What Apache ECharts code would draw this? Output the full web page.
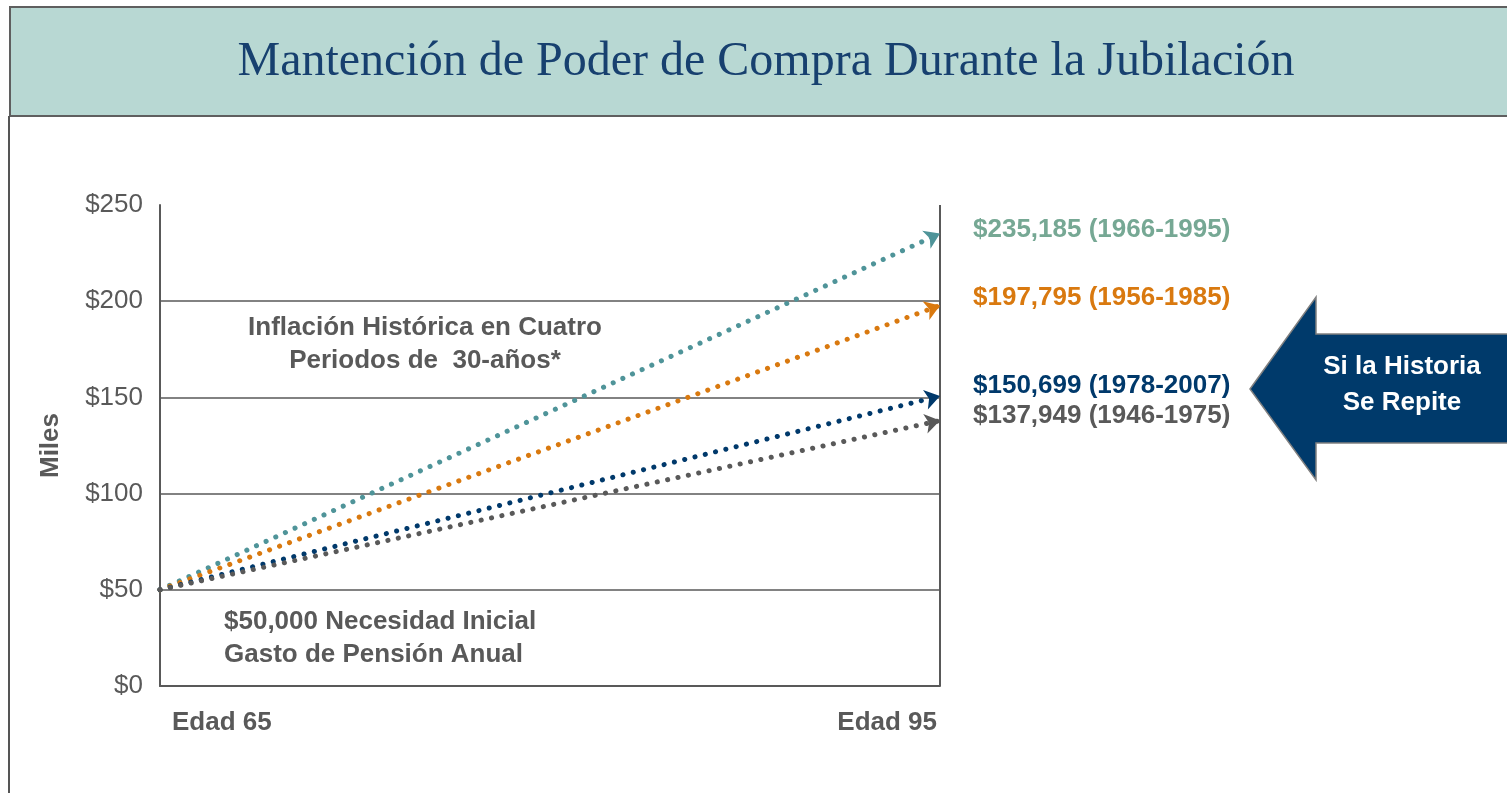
<!DOCTYPE html>
<html>
<head>
<meta charset="utf-8">
<script src="https://cdn.jsdelivr.net/npm/echarts@6/dist/echarts.min.js"></script>
<style>
  html, body { margin: 0; padding: 0; background: #fff; }
  #chart { width: 1507px; height: 793px; }
</style>
</head>
<body>
<div id="chart"></div>
<script>
// data (miles de dólares)
var ages = [65, 95]
var startValue = 50
var endValues = [235.185, 197.795, 150.699, 137.949]
var periods = ['1966-1995', '1956-1985', '1978-2007', '1946-1975']
var lineColors = ['#4f9499', '#d9790f', '#00396b', '#595959']
var labelColors = ['#76a894', '#d9790f', '#00396b', '#595959']
var labelY = [230, 298, 386, 416]
var yTicks = [0, 50, 100, 150, 200, 250]

var font = '"Liberation Sans", Arial, sans-serif'
var gray = '#595959'

function money(v) {
  return '$' + Math.round(v * 1000).toLocaleString('en-US')
}

var chart = echarts.init(document.getElementById('chart'))

var series = endValues.map(function(v, i) {
  return {
    type: 'lines',
    coordinateSystem: 'cartesian2d',
    z: 5,
    symbol: ['none', 'arrow'],
    symbolSize: [13, 15],
    lineStyle: {
      color: lineColors[i],
      width: 5,
      type: [0.1, 10.5],
      cap: 'round',
      opacity: 1
    },
    data: [{ coords: [[0, startValue], [ages[1] - ages[0], v]] }],
    silent: true
  }
})

var graphics = [
  {
    type: 'rect',
    shape: { x: 10, y: 7, width: 1510, height: 109 },
    style: { fill: '#b8d8d3', stroke: '#5f5f5f', lineWidth: 2 }
  },
  {
    type: 'line',
    shape: { x1: 9, y1: 116, x2: 9, y2: 800 },
    style: { stroke: '#555', lineWidth: 2 }
  },
  {
    type: 'text',
    x: 766, y: 62,
    style: {
      text: 'Mantención de Poder de Compra Durante la Jubilación',
      font: '48px "Liberation Serif", "Times New Roman", serif',
      fill: '#17406f',
      align: 'center', verticalAlign: 'middle'
    }
  },
  {
    type: 'text',
    x: 425, y: 344,
    style: {
      text: 'Inflación Histórica en Cuatro\nPeriodos de  30-años*',
      font: 'bold 26px ' + font, lineHeight: 33,
      fill: gray, align: 'center', verticalAlign: 'middle'
    }
  },
  {
    type: 'text',
    x: 224, y: 638,
    style: {
      text: money(startValue) + ' Necesidad Inicial\nGasto de Pensión Anual',
      font: 'bold 26px ' + font, lineHeight: 33,
      fill: gray, align: 'left', verticalAlign: 'middle'
    }
  },
  {
    type: 'polygon',
    shape: { points: [[1250, 389], [1316, 297], [1316, 334], [1512, 334], [1512, 443], [1316, 443], [1316, 480]] },
    style: { fill: '#003a6b', stroke: '#808080', lineWidth: 1.5 }
  },
  {
    type: 'text',
    x: 1402, y: 385,
    style: {
      text: 'Si la Historia\nSe Repite',
      font: 'bold 26px ' + font, lineHeight: 36,
      fill: '#fff', align: 'center', verticalAlign: 'middle'
    }
  }
]

endValues.forEach(function(v, i) {
  graphics.push({
    type: 'text',
    x: 973, y: labelY[i],
    style: {
      text: money(v) + ' (' + periods[i] + ')',
      font: 'bold 26px ' + font,
      fill: labelColors[i], align: 'left', verticalAlign: 'middle'
    }
  })
})

chart.setOption({
  animation: false,
  grid: { left: 160, right: 567, top: 205, bottom: 107 },
  xAxis: {
    type: 'value',
    min: 0,
    max: ages[1] - ages[0],
    interval: ages[1] - ages[0],
    axisLine: { show: true, lineStyle: { color: gray, width: 2 } },
    axisTick: { show: false },
    splitLine: { show: true, showMinLine: false, lineStyle: { color: gray, width: 2 } },
    axisLabel: {
      margin: 24,
      alignMinLabel: 'left',
      alignMaxLabel: 'right',
      formatter: function(v) {
        return v === 0 ? '{a|Edad ' + ages[0] + '}' : '{b|Edad ' + ages[1] + '}'
      },
      rich: {
        a: { padding: [0, 0, 0, 12], fontSize: 26, fontWeight: 'bold', color: gray, fontFamily: font },
        b: { padding: [0, 3, 0, 0], fontSize: 26, fontWeight: 'bold', color: gray, fontFamily: font }
      }
    }
  },
  yAxis: {
    type: 'value',
    min: yTicks[0],
    max: yTicks[yTicks.length - 1],
    interval: 50,
    name: 'Miles',
    nameLocation: 'middle',
    nameGap: 96,
    nameRotate: 90,
    nameTextStyle: { fontSize: 26, fontWeight: 'bold', color: gray, fontFamily: font },
    axisLine: { show: true, lineStyle: { color: gray, width: 2 } },
    axisTick: { show: false },
    splitLine: { show: true, showMaxLine: false, showMinLine: false, lineStyle: { color: gray, width: 1.5 } },
    axisLabel: {
      margin: 17,
      fontSize: 26,
      color: gray,
      fontFamily: font,
      formatter: function(v) { return '$' + v }
    }
  },
  series: series,
  graphic: graphics
})
</script>
</body>
</html>
